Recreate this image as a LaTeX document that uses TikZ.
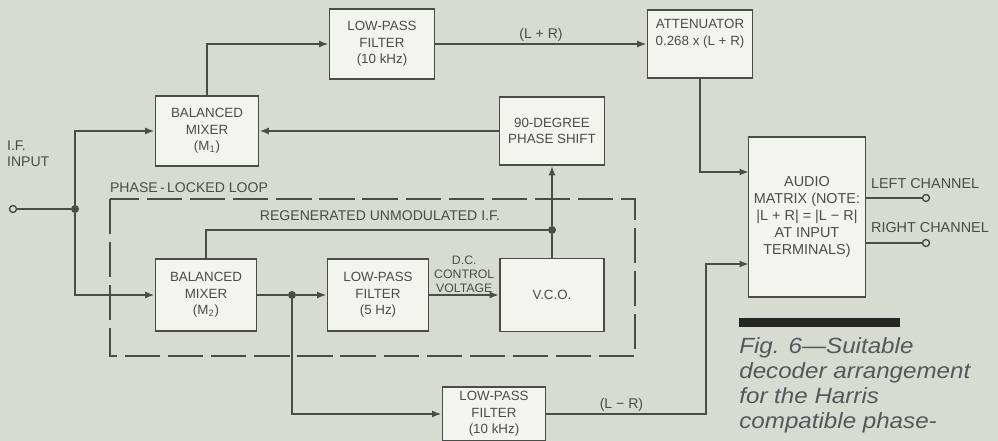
\documentclass[tikz,border=0pt]{standalone}
\usepackage{fontspec}
\setmainfont{Liberation Sans}
\newfontfamily\capfont[FakeStretch=1.1]{Liberation Sans}
\usepackage{tikz}
\usetikzlibrary{positioning}
\usetikzlibrary{arrows.meta}
\usepackage{xcolor}
\definecolor{paper}{HTML}{D8DBD2}
\definecolor{boxfill}{HTML}{F4F4EE}
\definecolor{ink}{HTML}{4A4D47}
\definecolor{captionink}{HTML}{55585A}

\begin{document}
\begin{tikzpicture}[x=0.2mm, y=-0.2mm,
    block/.style={rectangle, draw=ink, line width=1.1pt, fill=boxfill, align=center, text=ink,
        font=\fontsize{7.6}{9.4}\selectfont, minimum width=20.6mm, minimum height=14mm, inner sep=1pt},
    wire/.style={draw=ink, line width=0.9pt},
    arrow/.style={wire, -{Latex[length=1.9mm,width=1.4mm]}},
    junction/.style={circle, fill=ink, inner sep=0pt, minimum size=1.6mm},
    terminal/.style={circle, draw=ink, line width=0.8pt, fill=paper, inner sep=0pt, minimum size=1.4mm},
    signal/.style={text=ink, font=\fontsize{8}{9}\selectfont, align=center, inner sep=1pt},
    channel/.style={signal, font=\fontsize{8.2}{9}\selectfont}
]
    % Paper
    \fill[paper] (0,0) rectangle (998,441);
    \useasboundingbox (0,0) rectangle (998,441);

    % Phase-locked loop outline
    \draw[ink, line width=1.1pt, dash pattern=on 20pt off 4.5pt] (110,199) rectangle (635,356);
    \node[signal, anchor=west] (plltitle) at (108,188) {PHASE\,-\,LOCKED LOOP};

    % Blocks
    \node[block] (mixa) at (207,131) {BALANCED\\MIXER\\(M\textsubscript{1})};
    \node[block, minimum width=21mm] (lpfsum) at (382,44) {LOW-PASS\\FILTER\\(10 kHz)};
    \node[block, minimum width=21mm, minimum height=13.6mm] (atten) at (700,44) {ATTENUATOR\\0.268 x (L + R)\\[4pt]};
    \node[block, minimum width=21mm, minimum height=13.6mm] (shift) at (552,131) {90-DEGREE\\PHASE SHIFT};
    \node[block, minimum width=20.2mm, minimum height=14.4mm] (mixb) at (206,295) {BALANCED\\MIXER\\(M\textsubscript{2})};
    \node[block, minimum width=20.2mm, minimum height=14.4mm] (lpfpll) at (378,295) {LOW-PASS\\FILTER\\(5 Hz)};
    \node[block, minimum width=20.8mm, minimum height=14.6mm] (vco) at (552,295) {V.C.O.};
    \node[block, minimum width=20.6mm, minimum height=10.8mm] (lpfdiff) at (494,414) {LOW-PASS\\FILTER\\(10 kHz)};
    \node[block, minimum width=23.4mm, minimum height=32mm, font=\fontsize{8.2}{9.8}\selectfont] (audio) at (807,217)
        {AUDIO\\MATRIX (NOTE:\\|L + R| = |L − R|\\AT INPUT\\TERMINALS)};

    % Junctions and terminals
    \node[terminal] (ifin) at (13,209) {};
    \node[junction] (split) at (75,209) {};
    \node[junction] (detect) at (292,295) {};
    \node[junction] (regen) at (552,230) {};
    \node[terminal] (leftout) at (926,198) {};
    \node[terminal] (rightout) at (926,243) {};
    \coordinate (sumin) at (749,172);
    \coordinate (diffin) at (749,264);
    \coordinate (diffbend) at (706,414);

    % Input
    \node[signal, anchor=west, align=left] (iflabel) at (5,154) {I.F.\\INPUT};
    \draw[wire] (ifin) -- (split);
    \draw[arrow] (split) |- (mixa.west);
    \draw[arrow] (split) |- (mixb.west);

    % L+R path
    \draw[arrow] (mixa.north) |- (lpfsum.west);
    \draw[arrow] (lpfsum.east) -- node[signal, above] {(L + R)} (atten.west);
    \draw[arrow] (atten.south) |- (sumin);

    % Loop
    \draw[wire] (mixb.east) -- (detect);
    \draw[arrow] (detect) -- (lpfpll.west);
    \draw[arrow] (lpfpll.east) -- node[signal, above, font=\fontsize{7}{8}\selectfont] {D.C.\\CONTROL\\VOLTAGE} (vco.west);
    \draw[wire] (vco.north) -- (regen);
    \draw[wire] (regen) -| (mixb.north);
    \node[signal] (regenlabel) at (380,216) {REGENERATED UNMODULATED I.F.};
    \draw[arrow] (regen) -- (shift.south);
    \draw[arrow] (shift.west) -- (mixa.east);

    % L-R path
    \draw[arrow] (detect) |- (lpfdiff.west);
    \draw[arrow] (lpfdiff.east) -- node[signal, above, pos=0.47] {(L − R)} (diffbend) |- (diffin);

    % Outputs
    \draw[wire] (audio.east |- leftout) -- (leftout);
    \draw[wire] (audio.east |- rightout) -- (rightout);
    \node[channel, anchor=west] (leftlabel) at (869,184) {LEFT CHANNEL};
    \node[channel, anchor=west] (rightlabel) at (869,228) {RIGHT CHANNEL};

    % Caption
    \fill[black!85] (739,318) rectangle (900,327);
    \node[anchor=north west, align=left, inner sep=0pt, text=captionink,
        font=\capfont\fontsize{12.5}{14.2}\selectfont\itshape] (caption) at (739,337)
        {Fig. 6—Suitable\\decoder arrangement\\for the Harris\\compatible phase-};
\end{tikzpicture}
\end{document}
